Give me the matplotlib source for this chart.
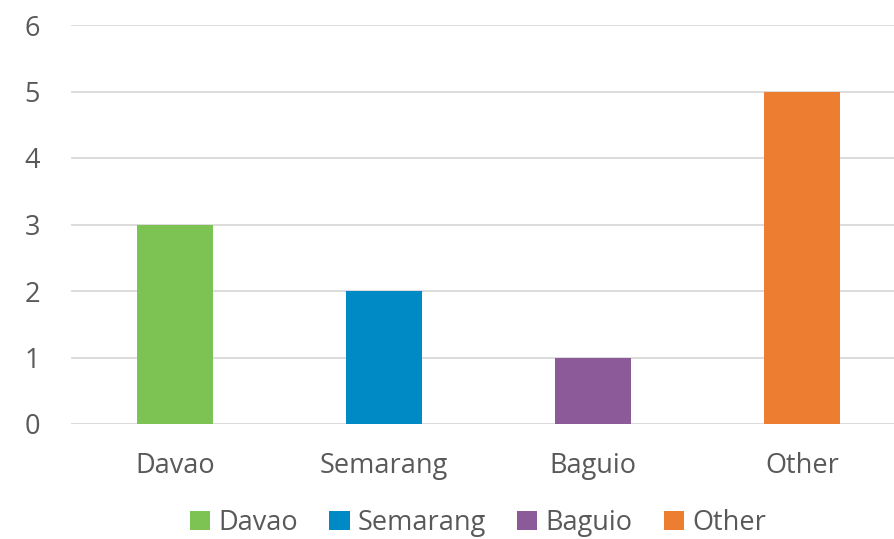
import matplotlib.pyplot as plt
from matplotlib.patches import Patch

categories = ["Davao", "Semarang", "Baguio", "Other"]
values = [3, 2, 1, 5]
colors = ["#7DC353", "#008AC5", "#8D5A99", "#ED7D31"]

plt.rcParams['font.family'] = ['Open Sans', 'DejaVu Sans']
text_color = "#595959"

fig = plt.figure(figsize=(8.94, 5.39), dpi=100)
# axes area in figure fractions (right side is cut off in the reference)
ax = fig.add_axes([70.5 / 894, 1 - 424 / 539, 836 / 894, 399 / 539])

x = range(len(categories))
ax.bar(x, values, width=0.36, color=colors, zorder=3)

ax.set_xlim(-0.5, 3.5)
ax.set_ylim(0, 6)
ax.set_yticks(range(0, 7))
ax.set_xticks(list(x))
ax.set_xticklabels(categories)
ax.tick_params(axis='both', length=0, labelsize=19.5, colors=text_color)
ax.tick_params(axis='x', pad=20)
ax.tick_params(axis='y', pad=22)
ax.grid(axis='y', color="#D9D9D9", linewidth=1.3, zorder=0)
for s in ax.spines.values():
    s.set_visible(False)

handles = [Patch(facecolor=c, label=l) for c, l in zip(colors, categories)]
fig.legend(handles=handles, loc='center', bbox_to_anchor=(478 / 894, 1 - 523 / 539),
           ncol=4, frameon=False, fontsize=19.5, labelcolor=text_color,
           handlelength=0.75, handleheight=0.75, handletextpad=0.3, columnspacing=1.15)

fig.savefig("out.png", dpi=100)
